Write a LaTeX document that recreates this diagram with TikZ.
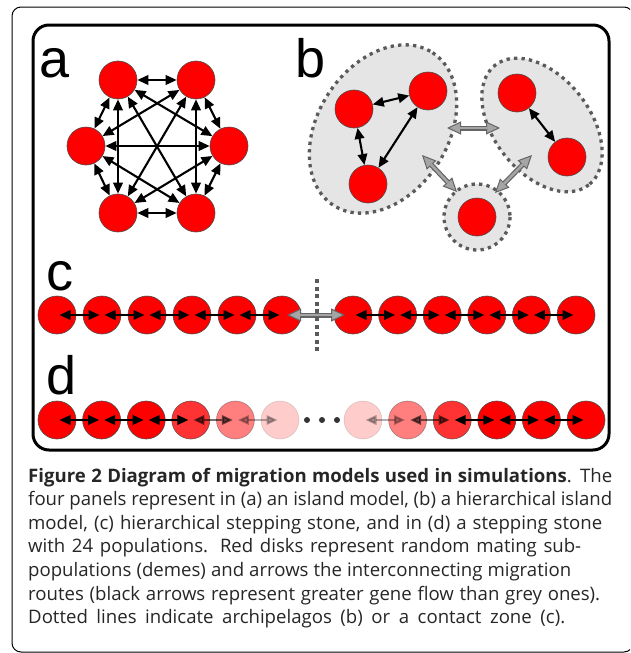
\documentclass[tikz,border=0pt]{standalone}
\usepackage{fontspec}
\setmainfont{Open Sans}
\newfontfamily\labfont{Liberation Sans}
\usetikzlibrary{arrows.meta}
\definecolor{demered}{RGB}{255,0,0}
\definecolor{islefill}{RGB}{229,229,229}
\definecolor{dotgrey}{RGB}{90,90,90}
\definecolor{shaftgrey}{RGB}{165,165,165}
\definecolor{rimgrey}{RGB}{100,100,100}
\tikzset{
  gtip/.tip={Triangle[length=14pt,width=13pt,fill=shaftgrey,line width=1pt]},
  btip/.tip={Triangle[length=11pt,width=9.5pt]},
  deme/.style={circle, fill=demered, draw=black!70, line width=0.6pt,
               minimum size=38pt, inner sep=0pt},
  bk/.style={line width=2.1pt, black, {btip}-{btip}},
  grim/.style={line width=5pt, draw=rimgrey, {gtip}-{gtip}},
  isle/.style={fill=islefill, draw=dotgrey, line width=3.3pt,
               dash pattern=on 3.3pt off 4.2pt},
  panellabel/.style={anchor=base west, inner sep=0pt,
                     font=\labfont\fontsize{54}{54}\selectfont},
  capline/.style={anchor=base west, inner sep=0pt, text=black!85,
                  font=\fontsize{18.6}{22}\selectfont},
  pause/.style={circle, fill=black!80, minimum size=6pt, inner sep=0pt}
}
% grey (weak) migration arrow: dark rim with a lighter core
\newcommand\weakflow[2]{%
  \draw[grim] (#1) -- (#2);
  \draw[line width=2.6pt, shaftgrey, shorten <=13pt, shorten >=13pt] (#1) -- (#2);}
% caption line spread to a given width
\newcommand\capspread[2]{\makebox[#1][s]{#2}}
\begin{document}
\begin{tikzpicture}[x=1pt,y=-1pt]
\useasboundingbox (0,0) rectangle (630,653);
\clip (0,0) rectangle (630,653);

% frames
\draw[line width=1pt, rounded corners=9pt] (12,7) rectangle (633,652);
\draw[line width=3pt, rounded corners=16pt] (33,25) rectangle (609,450);

% panel labels
\node[panellabel] (la) at (39,77) {a};
\node[panellabel] (lb) at (295,77) {b};
\node[panellabel] (lc) at (46,290) {c};
\node[panellabel] (ld) at (46,394) {d};

% ---- panel a: island model
\node[deme] (a1) at (118,80) {};
\node[deme] (a2) at (196,80) {};
\node[deme] (a3) at (229,146) {};
\node[deme] (a4) at (196,213) {};
\node[deme] (a5) at (118,213) {};
\node[deme] (a6) at (86,146) {};
\foreach \i/\j in {1/2,1/3,1/4,1/5,1/6,2/3,2/4,2/5,2/6,3/4,3/5,3/6,4/5,4/6,5/6}
  \draw[bk] (a\i) -- (a\j);

% ---- panel b: hierarchical island model
\draw[isle, rotate around={57:(383,129)}] (383,129) ellipse [x radius=91, y radius=65];
\draw[isle, rotate around={-52:(542,125)}] (542,125) ellipse [x radius=76, y radius=48];
\draw[isle] (477,217) circle [radius=33];
\node[deme] (b1) at (354,109) {};
\node[deme] (b2) at (428,91) {};
\node[deme] (b3) at (368,184) {};
\node[deme] (b4) at (517,93) {};
\node[deme] (b5) at (567,157) {};
\node[deme] (b6) at (477,217) {};
\draw[bk] (b1) -- (b2);
\draw[bk] (b1) -- (b3);
\draw[bk] (b2) -- (b3);
\draw[bk] (b4) -- (b5);
\coordinate (g1a) at (447,128); \coordinate (g1b) at (500,128);
\coordinate (g2a) at (422,155); \coordinate (g2b) at (457,192);
\coordinate (g3a) at (532,155); \coordinate (g3b) at (495,193);
\weakflow{g1a}{g1b}
\weakflow{g2a}{g2b}
\weakflow{g3a}{g3b}

% ---- panel c: hierarchical stepping stone
\foreach \k in {1,...,6} {
  \node[deme] (c\k) at ({57+45*(\k-1)},315) {};
  \node[deme] (c\the\numexpr\k+6\relax) at ({353+44.6*(\k-1)},315) {};
}
\foreach \i/\j in {1/2,2/3,3/4,4/5,5/6,7/8,8/9,9/10,10/11,11/12}
  \draw[bk, shorten <=2.5pt, shorten >=2.5pt] (c\i.center) -- (c\j.center);
\coordinate (gca) at (287,315); \coordinate (gcb) at (345,315);
\weakflow{gca}{gcb}
\coordinate (zt) at (317,279); \coordinate (zb) at (317,352);
\draw[draw=dotgrey, line width=4pt, dash pattern=on 4pt off 3.6pt] (zt) -- (zb);

% ---- panel d: stepping stone with fading ends
\foreach \k/\op in {1/1,2/1,3/1,4/0.8,5/0.5,6/0.2}
  \node[deme, opacity=\op] (d\k) at ({57+44.6*(\k-1)},420) {};
\foreach \k/\op in {7/0.2,8/0.5,9/0.8,10/1,11/1,12/1}
  \node[deme, opacity=\op] (d\k) at ({363+44.6*(\k-7)},420) {};
\foreach \i/\j/\op in {1/2/1,2/3/1,3/4/1,4/5/0.55,5/6/0.3,7/8/0.3,8/9/0.55,9/10/1,10/11/1,11/12/1}
  \draw[bk, opacity=\op, shorten <=2.5pt, shorten >=2.5pt] (d\i.center) -- (d\j.center);
\node[pause] (p1) at (307,420) {};
\node[pause] (p2) at (322,420) {};
\node[pause] (p3) at (337,420) {};

% ---- caption
\node[capline] (t1) at (28,482) {\capspread{584pt}{\textbf{Figure 2 Diagram of migration models used in simulations}. The}};
\node[capline] (t2) at (28,505.6) {\capspread{584pt}{four panels represent in (a) an island model, (b) a hierarchical island}};
\node[capline] (t3) at (28,529.2) {\capspread{574pt}{model, (c) hierarchical stepping stone, and in (d) a stepping stone}};
\node[capline] (t4) at (28,552.8) {\capspread{553pt}{with 24 populations. Red disks represent random mating sub-}};
\node[capline] (t5) at (28,576.4) {\capspread{543pt}{populations (demes) and arrows the interconnecting migration}};
\node[capline] (t6) at (28,600) {\capspread{572pt}{routes (black arrows represent greater gene flow than grey ones).}};
\node[capline] (t7) at (28,623.6) {\capspread{537pt}{Dotted lines indicate archipelagos (b) or a contact zone (c).}};
\end{tikzpicture}
\end{document}
